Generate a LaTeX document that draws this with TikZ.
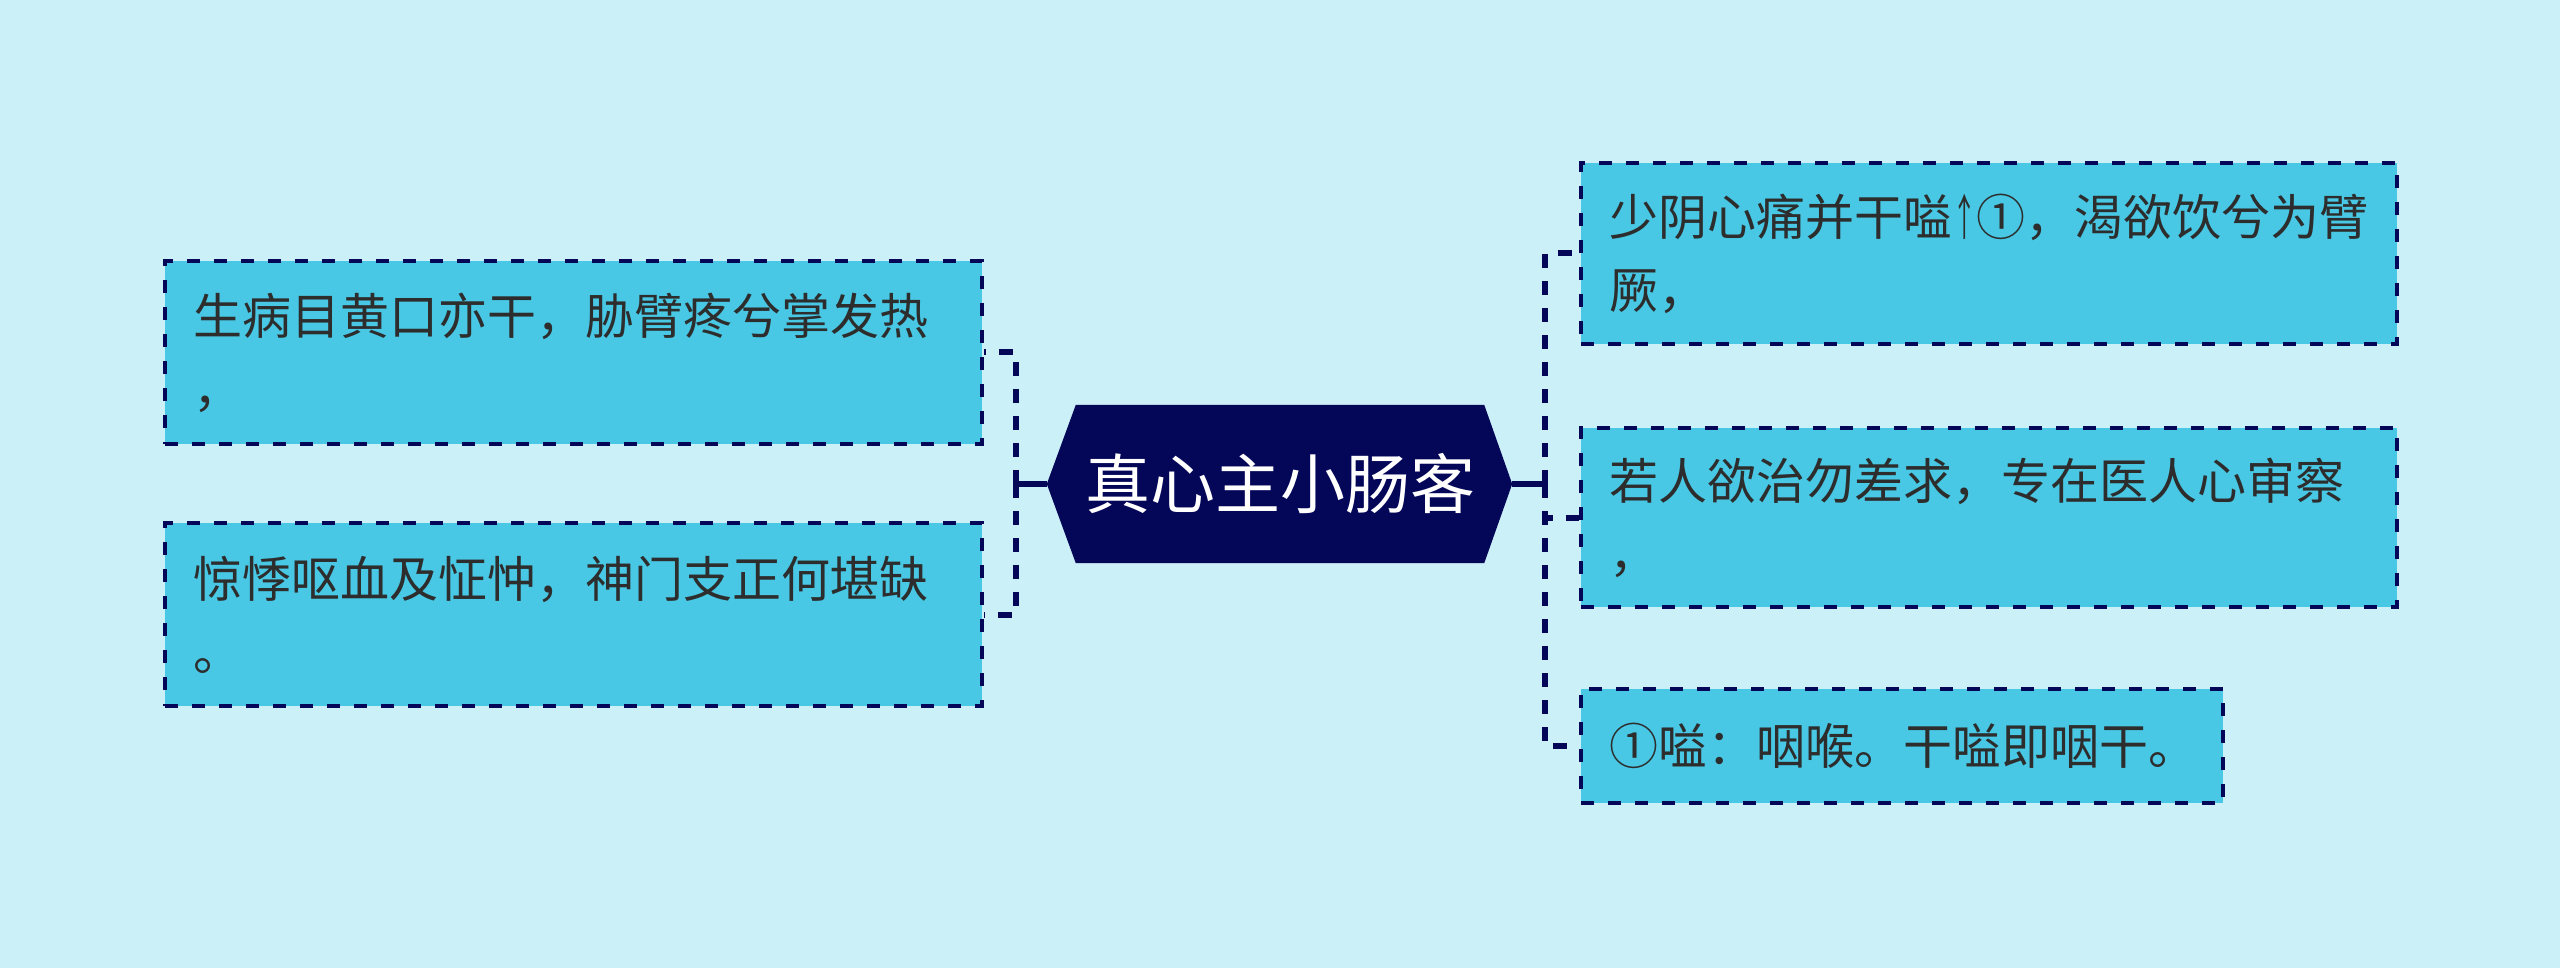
\documentclass[tikz,border=0pt]{standalone}
\usepackage{fontspec}
\setmainfont{Noto Sans CJK SC}
\usetikzlibrary{calc,backgrounds}
\definecolor{bg}{RGB}{203,240,247}
\definecolor{boxfill}{RGB}{72,200,228}
\definecolor{navy}{RGB}{4,6,88}
\definecolor{txt}{RGB}{45,45,45}
\newcommand{\narrowup}{\scalebox{0.5}[1]{↑}}
\tikzset{
  leaf/.style={draw=navy, fill=boxfill, line width=4pt, dash pattern=on 13pt off 14pt,
    inner xsep=28pt, inner ysep=0pt, align=left, text=txt,
    font=\fontsize{49}{73}\selectfont, text width=#1, anchor=west},
  conn/.style={draw=navy, line width=6pt, dash pattern=on 14pt off 13pt},
  stub/.style={draw=navy, line width=6pt},
  hub/.style={minimum width=408pt, minimum height=158pt, inner sep=0pt, text=white,
    font=\fontsize{65}{78}\selectfont},
}
\begin{document}
\begin{tikzpicture}[x=1pt,y=-1pt]
\begin{scope}[on background layer]
  \fill[bg] (0,0) rectangle (2560,968);
\end{scope}
\useasboundingbox (0,0) rectangle (2560,968);

\node[hub] (c) at (1280,484) {真心主小肠客};
\coordinate (cl) at ($(c.west)+(-29,0)$);
\coordinate (cr) at ($(c.east)+(28,0)$);
\begin{scope}[on background layer]
  \fill[navy] (c.north west) -- (c.north east) -- (cr) -- (c.south east) -- (c.south west) -- (cl) -- cycle;
\end{scope}

\node[leaf=761pt, minimum height=183pt] (L1) at (163,352.5) {生病目黄口亦干，胁臂疼兮掌发热\\，};
\node[leaf=761pt, minimum height=183pt] (L2) at (163,614.5) {惊悸呕血及怔忡，神门支正何堪缺\\。};

\node[leaf=760pt, minimum height=181pt] (R1) at (1579,253.5) {少阴心痛并干嗌\narrowup①，渴欲饮兮为臂\\厥，};
\node[leaf=760pt, minimum height=179pt] (R2) at (1579,517.5) {若人欲治勿差求，专在医人心审察\\，};
\node[leaf=586pt, minimum height=114pt] (R3) at (1579,746) {①嗌：咽喉。干嗌即咽干。};

\coordinate (jl) at (1016,484);
\coordinate (jr) at (1545,484);
\draw[stub] (cl) -- (jl);
\draw[stub] (cr) -- (jr);
\draw[conn] (jl) |- (L1.east);
\draw[conn] (jl) |- (L2.east);
\draw[conn] (jr) |- (R1.west);
\draw[conn] (jr) |- (R2.west);
\draw[conn] (jr) |- (R3.west);
\end{tikzpicture}
\end{document}
